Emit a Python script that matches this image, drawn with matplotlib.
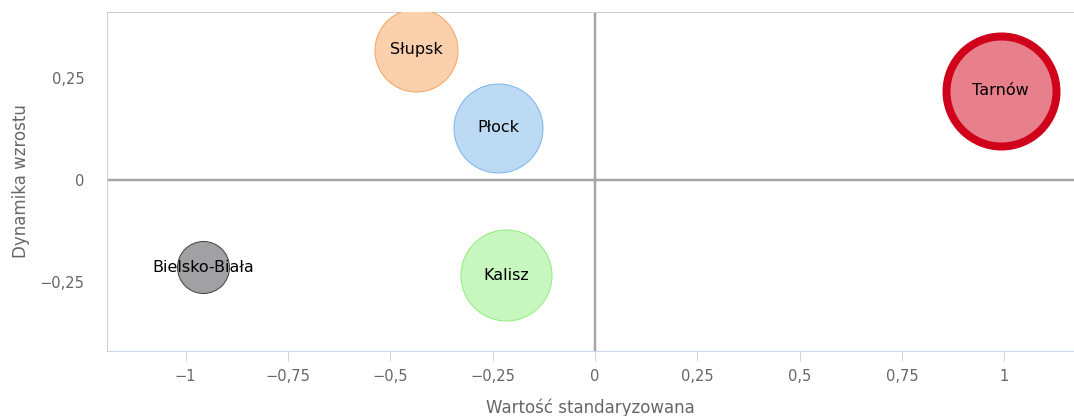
import matplotlib
matplotlib.use("Agg")
import matplotlib.pyplot as plt
import numpy as np

# Data
cities = ["Słupsk", "Płock", "Tarnów", "Bielsko-Biała", "Kalisz"]
x_vals = [-0.437, -0.237, 0.991, -0.957, -0.217]
y_vals = [0.319, 0.129, 0.219, -0.213, -0.233]
z_vals = [1722, 1980, 3025, 676, 2070]
fill_colors = ["#fbd1ad", "#bddaf5", "#e8808c", "#a1a1a3", "#c7f6be"]
edge_colors = ["#f7a35c", "#7cb5ec", "#d0021b", "#434348", "#90ed7d"]
edge_widths_px = [1, 1, 8, 1, 1]

x_ticks = [-1, -0.75, -0.5, -0.25, 0, 0.25, 0.5, 0.75, 1]
y_ticks = [-0.25, 0, 0.25]

def fmt(v):
    if v == 0:
        return "0"
    s = ("%g" % abs(v)).replace(".", ",")
    return ("\u2212" + s) if v < 0 else s

W, H, DPI = 1074, 416, 100
fig = plt.figure(figsize=(W / DPI, H / DPI), dpi=DPI)
ax = fig.add_axes([107 / W, (H - 351) / H, (1074 - 107) / W, (351 - 12) / H])
ax.set_xlim(-1.192, 1.17)
ax.set_ylim(-0.418, 0.412)

px2pt = 72 / DPI
# zero lines
ax.axhline(0, color="#a6a6a6", lw=2.5 * px2pt, zorder=1)
ax.axvline(0, color="#a6a6a6", lw=2.5 * px2pt, zorder=1)

for i in range(len(cities)):
    r_px = np.sqrt(z_vals[i])
    s = (2 * r_px * px2pt) ** 2
    ax.scatter([x_vals[i]], [y_vals[i]], s=s, c=fill_colors[i],
               edgecolors=edge_colors[i], linewidths=edge_widths_px[i] * px2pt, zorder=3)
    ax.text(x_vals[i], y_vals[i], cities[i], ha="center", va="center",
            fontsize=11.5, color="black", zorder=4)

for sp in ["right"]:
    ax.spines[sp].set_visible(False)
for sp in ["left", "top"]:
    ax.spines[sp].set_color("#cccccc")
    ax.spines[sp].set_linewidth(1 * px2pt)
ax.spines["bottom"].set_color("#ccd6eb")
ax.spines["bottom"].set_linewidth(1 * px2pt)

ax.set_xticks(x_ticks)
ax.set_xticklabels([fmt(v) for v in x_ticks])
ax.set_yticks(y_ticks)
ax.set_yticklabels([fmt(v) for v in y_ticks])
ax.tick_params(axis="x", length=10 * px2pt, width=1 * px2pt, color="#ccd6eb",
               labelsize=10.5, labelcolor="#666666", pad=6)
ax.tick_params(axis="y", length=0, labelsize=10.5, labelcolor="#666666", pad=16)

ax.set_xlabel("Wartość standaryzowana", fontsize=12, color="#666666", labelpad=10)
ax.set_ylabel("Dynamika wzrostu", fontsize=12, color="#666666", labelpad=7)

fig.savefig("out.png", dpi=DPI)
